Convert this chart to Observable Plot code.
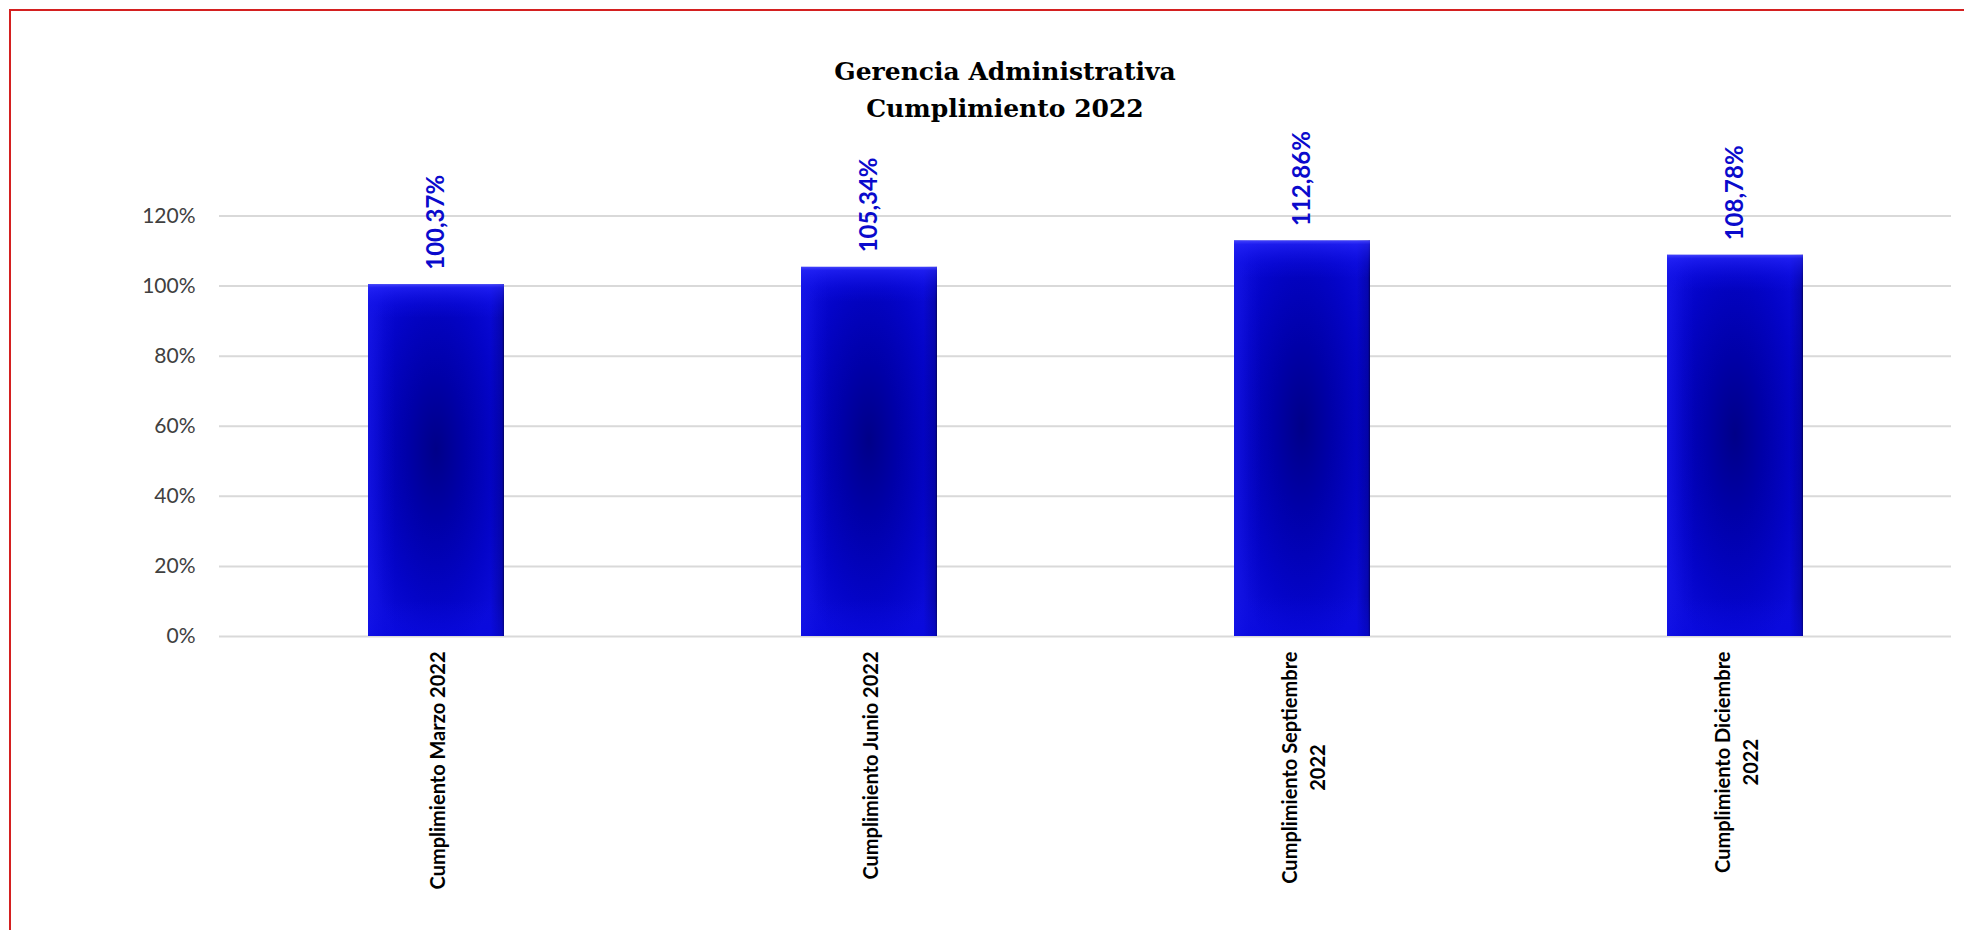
<!DOCTYPE html>
<html><head><meta charset="utf-8">
<script src="https://cdn.jsdelivr.net/npm/d3@7"></script>
<script src="https://cdn.jsdelivr.net/npm/@observablehq/plot@0.6"></script>
<style>
body{margin:0;background:#fff;width:1964px;height:930px;overflow:hidden;position:relative;}
#frame{position:absolute;left:9px;top:9px;width:1990px;height:960px;border:2px solid #d42020;}
#title{position:absolute;left:0;width:2010px;top:53px;text-align:center;font-family:"DejaVu Serif";font-weight:bold;font-size:25px;line-height:37px;color:#000;}
#chart{position:absolute;left:0;top:122px;}
</style></head>
<body>
<svg width="0" height="0" style="position:absolute">
<defs>
<radialGradient id="gBase" cx="0.5" cy="0.47" r="0.6">
<stop offset="0" stop-color="#000088"/>
<stop offset="0.35" stop-color="#0000a8"/>
<stop offset="0.75" stop-color="#0404c8"/>
<stop offset="1" stop-color="#0a0ad8"/>
</radialGradient>
<linearGradient id="gTop" x1="0" y1="0" x2="0" y2="1">
<stop offset="0" stop-color="#4848ff" stop-opacity="0.9"/>
<stop offset="0.01" stop-color="#2a2aff" stop-opacity="0.6"/>
<stop offset="0.06" stop-color="#1414f0" stop-opacity="0.25"/>
<stop offset="0.095" stop-color="#1414f0" stop-opacity="0"/>
</linearGradient>
<linearGradient id="gBottom" x1="0" y1="0" x2="0" y2="1">
<stop offset="0.9" stop-color="#1010f0" stop-opacity="0"/>
<stop offset="1" stop-color="#0808e8" stop-opacity="0.35"/>
</linearGradient>
<linearGradient id="gSide" x1="0" y1="0" x2="1" y2="0">
<stop offset="0" stop-color="#1e1ef0" stop-opacity="0.5"/>
<stop offset="0.12" stop-color="#1e1ef0" stop-opacity="0.12"/>
<stop offset="0.2" stop-color="#1e1ef0" stop-opacity="0"/>
<stop offset="0.9" stop-color="#00006e" stop-opacity="0"/>
<stop offset="0.985" stop-color="#00006e" stop-opacity="0.4"/>
<stop offset="1" stop-color="#00003c" stop-opacity="0.8"/>
</linearGradient>
</defs>
</svg>
<div id="frame"></div>
<div id="title">Gerencia Administrativa<br>Cumplimiento 2022</div>
<div id="chart"></div>
<script>
const categories = ["Cumplimiento Marzo 2022", "Cumplimiento Junio 2022", "Cumplimiento Septiembre 2022", "Cumplimiento Diciembre 2022"];
const tickLabels = ["Cumplimiento Marzo 2022", "Cumplimiento Junio 2022", "Cumplimiento Septiembre\n2022", "Cumplimiento Diciembre\n2022"];
const values = [1.0037, 1.0534, 1.1286, 1.0878];
const yTicks = [0, 0.2, 0.4, 0.6, 0.8, 1.0, 1.2];

const data = categories.map((c, i) => ({category: c, value: values[i], label: tickLabels[i]}));
const fmt = v => (v * 100).toFixed(2).replace(".", ",") + "%";

const chart = Plot.plot({
  width: 1964,
  height: 808,
  marginTop: 93.5,
  marginBottom: 294,
  marginLeft: 219,
  marginRight: 13,
  style: {background: "transparent", fontFamily: "Lato", overflow: "visible"},
  x: {domain: categories, paddingInner: 0.686, paddingOuter: 0.343, axis: null},
  y: {domain: [0, 1.2], axis: null},
  marks: [
    Plot.gridY(yTicks, {stroke: "#d9d9d9", strokeOpacity: 1, strokeWidth: 2}),
    Plot.axisY({ticks: yTicks, tickFormat: d => Math.round(d * 100) + "%", tickSize: 0, tickPadding: 24, fontSize: 21, fill: "#404040", label: null}),
    Plot.barY(data, {x: "category", y: "value", fill: "url(#gBase)"}),
    Plot.barY(data, {x: "category", y: "value", fill: "url(#gSide)"}),
    Plot.barY(data, {x: "category", y: "value", fill: "url(#gBottom)"}),
    Plot.barY(data, {x: "category", y: "value", fill: "url(#gTop)"}),
    Plot.axisX({tickSize: 0, tickPadding: 15, tickRotate: -90, tickFormat: d => tickLabels[categories.indexOf(d)], fontSize: 20, fontWeight: "bold", fill: "#000", lineHeight: 1.4, label: null}),
    Plot.text(data, {x: "category", y: "value", text: d => fmt(d.value), rotate: -90, textAnchor: "start", dy: -15, fill: "#0a0acc", fontSize: 24, fontWeight: "bold"})
  ]
});
document.getElementById("chart").appendChild(chart);

chart.querySelectorAll('[aria-label="x-axis tick label"] text').forEach(t => {
  const ts = t.querySelectorAll("tspan");
  if (ts.length > 1) {
    let m = 0;
    ts.forEach(s => { m = Math.max(m, s.getComputedTextLength()); });
    t.setAttribute("text-anchor", "middle");
    ts.forEach(s => s.setAttribute("x", -m / 2));
  }
});
</script>
</body></html>
